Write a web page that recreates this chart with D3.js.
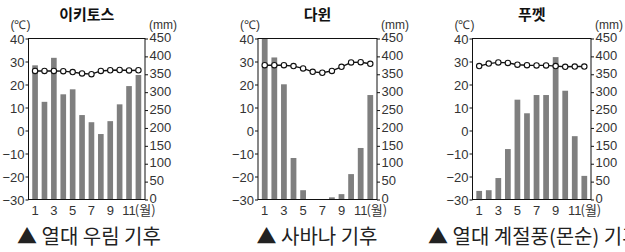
<!DOCTYPE html>
<html>
<head>
<meta charset="utf-8" />
<script src="https://d3js.org/d3.v7.min.js"></script>
<style>
  body { margin: 0; background: #fff; overflow: hidden; }
  svg { display: block; }
  .num { font-family: "Liberation Sans", Arial, sans-serif; font-size: 13px; fill: #333; }
  .kr { font-family: "Noto Sans CJK KR", "Noto Sans", sans-serif; }
</style>
</head>
<body>
<svg id="chart" width="625" height="252"></svg>
<script>
var months = [1, 2, 3, 4, 5, 6, 7, 8, 9, 10, 11, 12];
var monthTicks = [1, 3, 5, 7, 9, 11];
var tempTicks = [40, 30, 20, 10, 0, -10, -20, -30];
var rainTicks = [0, 50, 100, 150, 200, 250, 300, 350, 400, 450];

var titles = ["이키토스", "다윈", "푸껫"];
var captions = ["▲ 열대 우림 기후", "▲ 사바나 기후", "▲ 열대 계절풍(몬순) 기후"];

var iquitosTemp = [25.9, 25.9, 25.9, 25.8, 25.4, 24.8, 24.5, 25.9, 26.2, 26.3, 26.1, 26.2];
var iquitosRain = [375, 273, 396, 294, 308, 236, 216, 183, 219, 266, 317, 348];
var darwinTemp = [28.4, 28.4, 28.4, 28.0, 27.0, 25.5, 25.1, 25.9, 27.7, 29.6, 29.7, 29.0];
var darwinRain = [450, 397, 322, 116, 26, 0, 1, 6, 15, 71, 144, 292];
var phuketTemp = [28.0, 29.1, 29.6, 29.4, 28.6, 28.4, 28.3, 28.3, 28.0, 27.7, 27.8, 27.8];
var phuketRain = [24, 26, 60, 141, 279, 241, 292, 292, 398, 304, 177, 66];

var svg = d3.select("#chart");

var panels = [
  { left: 28.5, right: 145, temp: iquitosTemp, rain: iquitosRain, capX: 89, capAnchor: "middle" },
  { left: 258, right: 377, temp: darwinTemp, rain: darwinRain, capX: 317, capAnchor: "middle" },
  { left: 472.5, right: 591, temp: phuketTemp, rain: phuketRain, capX: 428, capAnchor: "start" }
];

var plotTop = 38.5, plotBottom = 199.5;

panels.forEach(function (p, i) {
  var g = svg.append("g");

  var x = d3.scaleBand().domain(months).range([p.left, p.right])
    .paddingInner(0.4).paddingOuter(0.4);
  var yT = d3.scaleLinear().domain([-30, 40]).range([plotBottom, plotTop]);
  var yR = d3.scaleLinear().domain([0, 450]).range([plotBottom, plotTop]);

  // bars
  g.selectAll(".bar")
    .data(p.rain)
    .enter().append("rect")
    .attr("class", "bar")
    .attr("x", (d, j) => x(months[j]))
    .attr("width", x.bandwidth())
    .attr("y", d => yR(d))
    .attr("height", d => yR(0) - yR(d))
    .attr("fill", "#7f7f7f");

  // frame
  g.append("rect")
    .attr("x", p.left).attr("y", plotTop)
    .attr("width", p.right - p.left).attr("height", plotBottom - plotTop)
    .attr("fill", "none").attr("stroke", "#111").attr("stroke-width", 1);

  // axes
  var la = g.append("g").attr("transform", `translate(${p.left},0)`)
    .call(d3.axisLeft(yT).tickValues(tempTicks).tickSize(3).tickPadding(1)
      .tickFormat(d => d < 0 ? "\u2212" + Math.abs(d) : d));
  var ra = g.append("g").attr("transform", `translate(${p.right},0)`)
    .call(d3.axisRight(yR).tickValues(rainTicks).tickSize(3).tickPadding(1.5));
  var ba = g.append("g").attr("transform", `translate(0,${plotBottom})`)
    .call(d3.axisBottom(x).tickValues(monthTicks).tickSize(0).tickPadding(4));

  [la, ra, ba].forEach(function (a) {
    a.select(".domain").remove();
    a.selectAll("line").attr("stroke", "#111");
    a.selectAll("text").attr("class", "num").attr("font-family", null).attr("font-size", null);
  });
  la.selectAll("text").attr("dy", "0.35em");
  ra.selectAll("text").attr("dy", "0.25em");
  ba.selectAll("text").attr("dy", "0.85em");

  // "(월)" after 11
  ba.selectAll(".tick").filter(d => d === 11).each(function () {
    var t = d3.select(this).select("text");
    var w = t.node().getComputedTextLength();
    d3.select(this).append("text")
      .attr("class", "num kr")
      .attr("x", w / 2 - 1)
      .attr("y", 4)
      .attr("dy", "0.9em")
      .attr("text-anchor", "start")
      .style("font-size", "13px")
      .text("(월)");
  });

  // temperature line
  var line = d3.line()
    .x((d, j) => x(months[j]) + x.bandwidth() / 2)
    .y(d => yT(d));
  g.append("path")
    .datum(p.temp)
    .attr("d", line)
    .attr("fill", "none")
    .attr("stroke", "#111")
    .attr("stroke-width", 1.4);
  g.selectAll(".pt")
    .data(p.temp)
    .enter().append("circle")
    .attr("class", "pt")
    .attr("cx", (d, j) => x(months[j]) + x.bandwidth() / 2)
    .attr("cy", d => yT(d))
    .attr("r", 2.7)
    .attr("fill", "#fff")
    .attr("stroke", "#111")
    .attr("stroke-width", 1.1);

  // title and units
  g.append("text")
    .attr("class", "kr")
    .attr("x", (p.left + p.right) / 2).attr("y", 20)
    .attr("text-anchor", "middle")
    .style("font-size", "15px").style("font-weight", "bold").style("fill", "#111")
    .text(titles[i]);
  g.append("text")
    .attr("class", "num")
    .attr("x", p.left + 2).attr("y", 29)
    .attr("text-anchor", "end")
    .style("font-size", "12px")
    .text("(℃)");
  g.append("text")
    .attr("class", "num")
    .attr("x", p.right + 4).attr("y", 29)
    .attr("text-anchor", "start")
    .style("font-size", "12px")
    .text("(mm)");

  // caption
  g.append("text")
    .attr("class", "kr")
    .attr("x", p.capX).attr("y", 244)
    .attr("text-anchor", p.capAnchor)
    .style("font-size", "20px").style("fill", "#222")
    .text(captions[i]);
});
</script>
</body>
</html>
